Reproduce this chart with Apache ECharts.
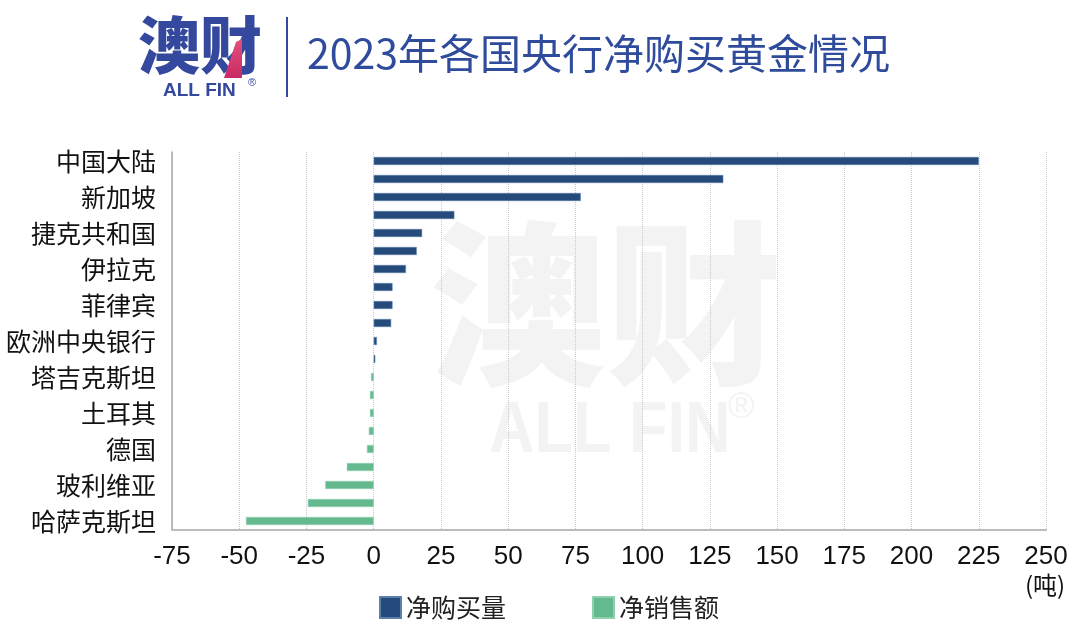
<!DOCTYPE html>
<html>
<head>
<meta charset="utf-8">
<script src="https://cdn.jsdelivr.net/npm/echarts@6/dist/echarts.min.js"></script>
<style>
html,body{margin:0;padding:0;background:#fff;}
#chart{width:1080px;height:640px;}
</style>
</head>
<body>
<div id="chart"></div>
<script>
// Categories (top to bottom); only every other label is shown in the reference
const categories = ['中国大陆','波兰','新加坡','利比亚','捷克共和国','印度','伊拉克','卡塔尔','菲律宾','吉尔吉斯斯坦','欧洲中央银行','蒙古','塔吉克斯坦','斯里兰卡','土耳其','泰国','德国','俄罗斯','玻利维亚','乌兹别克斯坦','哈萨克斯坦'];
const netValues = [225,130,77,30,18,16,12,7,7,6.5,1.2,0.6,-1,-1.4,-1.4,-1.8,-2.5,-10,-18,-24.5,-47.5];
const buyValues = netValues.map(v => v > 0 ? v : null);
const sellValues = netValues.map(v => v < 0 ? v : null);
const seriesNames = ['净购买量','净销售额'];
const xTicks = {min: -75, max: 250, interval: 25};
const titleText = '2023年各国央行净购买黄金情况';
const unitText = '(吨)';

const chart = echarts.init(document.getElementById('chart'));
const CJK = "'Noto Sans CJK SC', 'Noto Sans', sans-serif";
const LAT = "'Liberation Sans', Arial, sans-serif";
const option = {
  backgroundColor: '#ffffff',
  animation: false,
  grid: {left: 172, right: 34, top: 152, bottom: 110, containLabel: false},
  legend: {
    data: seriesNames,
    left: 374, top: 590,
    itemWidth: 21, itemHeight: 21, itemGap: 86,
    icon: 'rect',
    textStyle: {fontSize: 25, color: '#222', fontFamily: CJK}
  },
  xAxis: {
    type: 'value',
    min: xTicks.min, max: xTicks.max, interval: xTicks.interval,
    axisLine: {show: true, onZero: false, lineStyle: {color: '#bcbcbc', width: 2}},
    axisTick: {show: false},
    axisLabel: {fontSize: 26, color: '#111', fontFamily: LAT, margin: 14},
    splitLine: {show: true, lineStyle: {type: 'dotted', color: '#c8c8c8', width: 1}}
  },
  yAxis: {
    type: 'category',
    data: categories,
    inverse: true,
    axisLine: {show: true, onZero: false, lineStyle: {color: '#a8a8a8', width: 1.5}},
    axisTick: {show: false},
    axisLabel: {interval: 1, fontSize: 25, color: '#111', fontFamily: CJK, margin: 16}
  },
  series: [
    {name: seriesNames[0], type: 'bar', data: buyValues, barWidth: 8, barGap: '-100%',
     itemStyle: {color: '#244b7b', borderColor: '#5d80ab', borderWidth: 0.6}, z: 3},
    {name: seriesNames[1], type: 'bar', data: sellValues, barWidth: 8, barGap: '-100%',
     itemStyle: {color: '#64b98f', borderColor: '#8fd0ae', borderWidth: 0.6}, z: 3}
  ],
  graphic: [
    // watermark
    {type: 'text', z: -100, left: 430, top: 216,
     style: {text: '澳财', fontSize: 176, fontWeight: 900, fontFamily: CJK, fill: '#f3f3f3'}},
    {type: 'text', z: -100, left: 489, top: 396, scaleY: 1.15,
     style: {text: 'ALL FIN', fontSize: 63, fontWeight: 'bold', fontFamily: LAT, fill: '#f3f3f3'}},
    {type: 'text', z: -100, left: 728, top: 390,
     style: {text: '®', fontSize: 36, fontFamily: LAT, fill: '#f3f3f3'}},
    // logo
    {type: 'text', left: 138, top: 14,
     style: {text: '澳财', fontSize: 62, fontWeight: 900, fontFamily: CJK, fill: '#34499d'}},
    {type: 'polygon', shape: {points: [[236,42],[242,39],[242,78],[224,78]]},
     style: {fill: {type: 'linear', x: 0, y: 0, x2: 0, y2: 1,
       colorStops: [{offset: 0, color: '#e2507f'}, {offset: 1, color: '#c92a64'}]}}},
    {type: 'text', left: 163, top: 81,
     style: {text: 'ALL FIN', fontSize: 19, fontWeight: 'bold', fontFamily: LAT, fill: '#34499d'}},
    {type: 'text', left: 248, top: 77,
     style: {text: '®', fontSize: 11, fontFamily: LAT, fill: '#34499d'}},
    {type: 'rect', shape: {x: 286, y: 17, width: 2, height: 80}, style: {fill: '#34499d'}},
    // title
    {type: 'text', left: 307, top: 33,
     style: {text: titleText, fontSize: 41, fontFamily: CJK, fill: '#2f4b9c'}},
    // unit
    {type: 'text', left: 1025, top: 573,
     style: {text: unitText, fontSize: 24, fontFamily: CJK, fill: '#111'}}
  ]
};
chart.setOption(option);
</script>
</body>
</html>
